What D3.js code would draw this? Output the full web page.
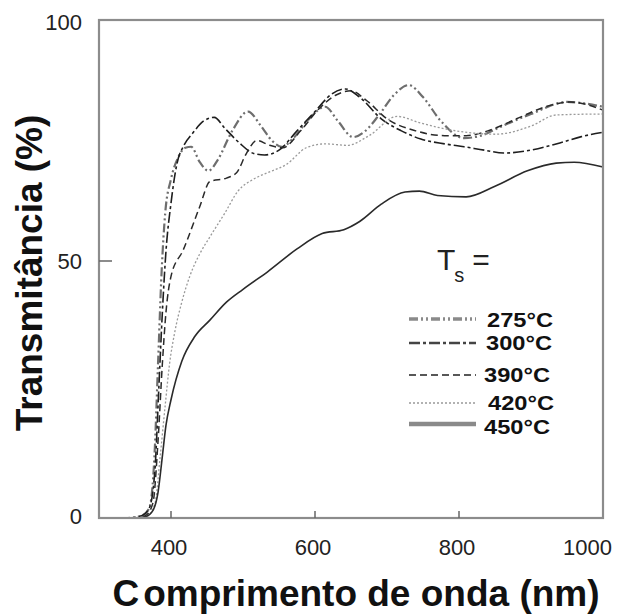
<!DOCTYPE html>
<html><head><meta charset="utf-8">
<script src="https://cdn.jsdelivr.net/npm/d3@7"></script>
<style>html,body{margin:0;padding:0;background:#fff;}svg{display:block;}</style>
</head><body>
<script>
// ---- data (wavelength nm, transmittance %) ----
const seriesNames = ["275°C", "300°C", "390°C", "420°C", "450°C"];
const xTicks = [400, 600, 800, 1000];
const yTicks = [0, 50, 100];

const t275 = [[300,0],[340,0],[360,0.5],[370,2],[377,12],[382,30],[387,48],[392,60],[400,67],[410,71.5],[420,73.5],[428,73.7],[440,70.5],[452,68.7],[465,71],[485,77],[507,81],[525,78],[540,75],[554,73.7],[570,75.5],[592,79.5],[614,82],[632,79],[653,75.7],[670,77],[690,80.5],[710,84.5],[730,86.5],[750,84],[775,79],[807,75.5],[830,76],[860,78],[900,80.5],[950,83],[1000,82]];
const t300 = [[300,0],[340,0],[360,0.5],[370,2],[378,10],[383,25],[388,40],[393,52],[400,62],[408,70],[418,74],[430,76.5],[445,79],[460,79.8],[475,77.5],[495,74.5],[515,72.3],[530,72],[550,73],[575,77],[600,81],[622,84.5],[642,85.7],[662,84],[692,79.5],[720,77],[747,75.3],[780,74.3],[807,73.7],[835,73],[862,72.4],[900,73],[940,74.5],[970,75.8],[1000,76.7]];
const t390 = [[300,0],[350,0],[365,0.5],[375,3],[382,15],[388,30],[393,40],[400,47],[417,52.3],[440,61.3],[454,66.5],[477,67.2],[491,68.3],[505,72.4],[519,75],[537,74],[555,73.5],[580,77],[605,81.5],[630,84.5],[650,85.3],[670,83.5],[700,79.5],[740,77],[780,76],[810,76],[840,77],[880,79.5],[920,82],[955,83],[1000,81.3]];
const t420 = [[300,0],[350,0],[368,0.5],[378,3],[385,12],[392,22],[398,30],[405,36],[415,42],[426,47],[440,51.5],[454,55],[475,60],[493,64.5],[515,67],[537,68.5],[560,70],[588,73.5],[614,74.3],[645,74],[675,76],[714,80],[747,78.6],[796,77],[851,76.3],[900,78],[935,80.3],[1000,80.5]];
const t450 = [[300,0],[350,0],[365,0.3],[375,1.5],[382,5],[388,12],[393,18],[400,23],[415,30.5],[433,35.3],[454,38.5],[477,42],[500,44.5],[535,48],[575,52.5],[610,55.7],[640,56.5],[662,58.2],[692,61.8],[725,64.3],[745,64.5],[770,63.6],[810,63.3],[850,65.5],[895,68.7],[935,70.3],[960,70.5],[1000,69.5]];
const seriesData = [t275, t300, t390, t420, t450];

// ---- styles ----
const styles = [
  {stroke:"#6e6e6e", width:2.2, dash:"9,3,2,3,2,3", lw:3.5, lstroke:"#8a8a8a"},
  {stroke:"#1e1e1e", width:1.6, dash:"11,3,3,3", lw:2.5, lstroke:"#444"},
  {stroke:"#2a2a2a", width:1.5, dash:"7,4", lw:1.6, lstroke:"#222"},
  {stroke:"#9a9a9a", width:1.3, dash:"2,2", lw:1.6, lstroke:"#999"},
  {stroke:"#2a2a2a", width:1.6, dash:null, lw:4.5, lstroke:"#8a8a8a"}
];

const W = 621, H = 614;
const svg = d3.select("body").append("svg").attr("width", W).attr("height", H)
  .style("font-family", "'Liberation Sans', Arial, sans-serif");

const x = d3.scaleLinear().domain([300, 1000]).range([99, 603]);
const y = d3.scaleLinear().domain([0, 50, 100]).range([518, 261, 20]);

// curves
const line = d3.line().x(d => x(d[0])).y(d => y(d[1])).curve(d3.curveMonotoneX);
const g = svg.append("g");
seriesData.forEach((s, i) => {
  g.append("path").attr("d", line(s)).attr("fill", "none")
    .attr("stroke", styles[i].stroke).attr("stroke-width", styles[i].width)
    .attr("stroke-dasharray", styles[i].dash);
});

// frame
svg.append("rect").attr("x", x(300)).attr("y", y(100))
  .attr("width", x(1000) - x(300)).attr("height", y(0) - y(100))
  .attr("fill", "none").attr("stroke", "#8c8c8c").attr("stroke-width", 2.2);

// ticks
svg.selectAll(".xt").data(xTicks.filter(d => d < 1000)).enter().append("line")
  .attr("x1", d => x(d)).attr("x2", d => x(d)).attr("y1", y(0)).attr("y2", y(0) - 7)
  .attr("stroke", "#666").attr("stroke-width", 1.5);
svg.selectAll(".yt").data([50]).enter().append("line")
  .attr("x1", x(300)).attr("x2", x(300) + 13).attr("y1", d => y(d)).attr("y2", d => y(d))
  .attr("stroke", "#666").attr("stroke-width", 1.5);

// tick labels
svg.selectAll(".xl").data(xTicks).enter().append("text")
  .attr("x", d => d === 1000 ? x(d) + 9 : x(d) - 2)
  .attr("y", 555)
  .attr("text-anchor", d => d === 1000 ? "end" : "middle")
  .attr("font-size", 22).attr("fill", "#222").text(d => d);
svg.selectAll(".yl").data(yTicks).enter().append("text")
  .attr("x", 82).attr("y", d => y(d) + 8 + (d === 100 ? 2 : 0) + (d === 0 ? -2 : 0))
  .attr("text-anchor", "end").attr("font-size", 22).attr("fill", "#222").text(d => d);

// axis titles
const xt = svg.append("text").attr("x", 356).attr("y", 606).attr("text-anchor", "middle")
  .attr("font-size", 37).attr("font-weight", "bold").attr("fill", "#111");
xt.append("tspan").text("C");
xt.append("tspan").attr("dx", 4).text("omprimento de onda (nm)");
svg.append("text").attr("transform", "translate(42,273) rotate(-90)")
  .attr("text-anchor", "middle").attr("font-size", 37).attr("font-weight", "bold")
  .attr("fill", "#111").text("Transmitância (%)");

// legend title
const lt = svg.append("text").attr("x", 437).attr("y", 270).attr("font-size", 30).attr("fill", "#222");
lt.append("tspan").text("T");
lt.append("tspan").attr("font-size", 20).attr("dy", 12).attr("dx", -1).text("s");
lt.append("tspan").attr("dy", -12).attr("dx", 8).text("=");

// legend entries
const legY = [319, 343, 375, 403, 424];
const legBase = [327, 350, 382, 410, 434];
const legTX = [487, 486, 484, 488, 484];
seriesNames.forEach((n, i) => {
  svg.append("line").attr("x1", 409).attr("x2", 476).attr("y1", legY[i]).attr("y2", legY[i])
    .attr("stroke", styles[i].lstroke).attr("stroke-width", styles[i].lw)
    .attr("stroke-dasharray", styles[i].dash);
  svg.append("text").attr("x", legTX[i]).attr("y", legBase[i])
    .attr("font-size", 20).attr("font-weight", "bold").attr("fill", "#111")
    .attr("textLength", 66).attr("lengthAdjust", "spacingAndGlyphs").text(n);
});
</script>
</body></html>
